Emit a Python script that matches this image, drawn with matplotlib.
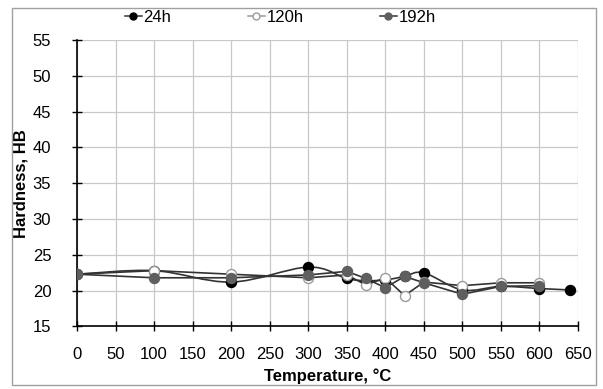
import matplotlib
matplotlib.use("Agg")
import matplotlib.pyplot as plt
import numpy as np
from matplotlib.path import Path
from matplotlib.patches import PathPatch, Rectangle
from matplotlib.lines import Line2D

plt.rcParams['font.family'] = ['Liberation Sans', 'DejaVu Sans']

x24 = [0, 100, 200, 300, 350, 375, 400, 425, 450, 500, 550, 600, 640]
h24 = [22.3, 22.8, 21.2, 23.3, 21.7, 21.4, 21.5, 22.0, 22.5, 20.1, 20.6, 20.3, 20.1]
x120 = [0, 100, 200, 300, 350, 375, 400, 425, 450, 500, 550, 600]
h120 = [22.3, 22.8, 22.3, 21.8, 22.2, 20.8, 21.8, 19.3, 21.2, 20.7, 21.1, 21.1]
x192 = [0, 100, 200, 300, 350, 375, 400, 425, 450, 500, 550, 600]
h192 = [22.3, 21.8, 21.8, 22.2, 22.7, 21.7, 20.4, 22.0, 21.1, 19.5, 20.6, 20.7]
labels = ['24h', '120h', '192h']
xticks = list(range(0, 651, 50))
yticks = list(range(15, 56, 5))

fig = plt.figure(figsize=(6.03, 3.89), dpi=100)
ax = fig.add_axes([0.1277, 0.1607, 0.8308, 0.7365])

def smooth_path(xs, ys, t=1/6):
    xs = np.asarray(xs, float); ys = np.asarray(ys, float)
    verts = [(xs[0], ys[0])]; codes = [Path.MOVETO]
    n = len(xs)
    for i in range(n - 1):
        p0 = np.array([xs[max(i-1, 0)], ys[max(i-1, 0)]])
        p1 = np.array([xs[i], ys[i]])
        p2 = np.array([xs[i+1], ys[i+1]])
        p3 = np.array([xs[min(i+2, n-1)], ys[min(i+2, n-1)]])
        c1 = p1 + (p2 - p0) * t
        c2 = p2 - (p3 - p1) * t
        verts += [tuple(c1), tuple(c2), tuple(p2)]
        codes += [Path.CURVE4] * 3
    return Path(verts, codes)

lc = '#333333'
ax.add_patch(PathPatch(smooth_path(x24, h24), fill=False, edgecolor=lc, lw=1.2, zorder=3))
ax.plot(x120, h120, color=lc, lw=1.2, zorder=3)
ax.plot(x192, h192, color=lc, lw=1.2, zorder=3)

ms = 7.2
ax.plot(x24, h24, 'o', ms=ms, mfc='black', mec='black', zorder=4)
ax.plot(x120, h120, 'o', ms=ms, mfc='white', mec='#9a9a9a', mew=1.0, zorder=5)
ax.plot(x192, h192, 'o', ms=ms, mfc='#5f5f5f', mec='#5f5f5f', zorder=6)

ax.set_xlim(0, 650)
ax.set_ylim(15, 55)
ax.set_xticks(xticks)
ax.set_yticks(yticks)
ax.grid(True, color='#c8c8c8', lw=0.9)
ax.set_axisbelow(True)
for s in ['top', 'right']:
    ax.spines[s].set_visible(False)
for s in ['left', 'bottom']:
    ax.spines[s].set_color('black')
    ax.spines[s].set_linewidth(1.2)
ax.tick_params(direction='inout', length=7, width=1.0, labelsize=12, colors='black')
ax.tick_params(axis='x', pad=11)
ax.tick_params(axis='y', pad=15)
ax.set_xlabel('Temperature, °C', fontsize=12, fontweight='bold', labelpad=5)
ax.set_ylabel('Hardness, HB', fontsize=12, fontweight='bold', labelpad=3)

handles = [
    Line2D([0], [0], color=lc, lw=1.1, marker='o', ms=5, mfc='black', mec='black'),
    Line2D([0], [0], color='#9a9a9a', lw=1.1, marker='o', ms=5, mfc='white', mec='#9a9a9a'),
    Line2D([0], [0], color=lc, lw=1.1, marker='o', ms=5, mfc='#5f5f5f', mec='#5f5f5f'),
]
fig.legend(handles, labels, loc='center', bbox_to_anchor=(0.465, 0.955), ncol=3,
           frameon=False, fontsize=12, handlelength=1.0, handletextpad=0.1,
           columnspacing=4.6)

fig.patches.append(Rectangle((0.02, 0.01), 0.968, 0.97, transform=fig.transFigure,
                             fill=False, edgecolor='#a0a0a0', lw=1.0))

fig.savefig('out.png', dpi=100)
